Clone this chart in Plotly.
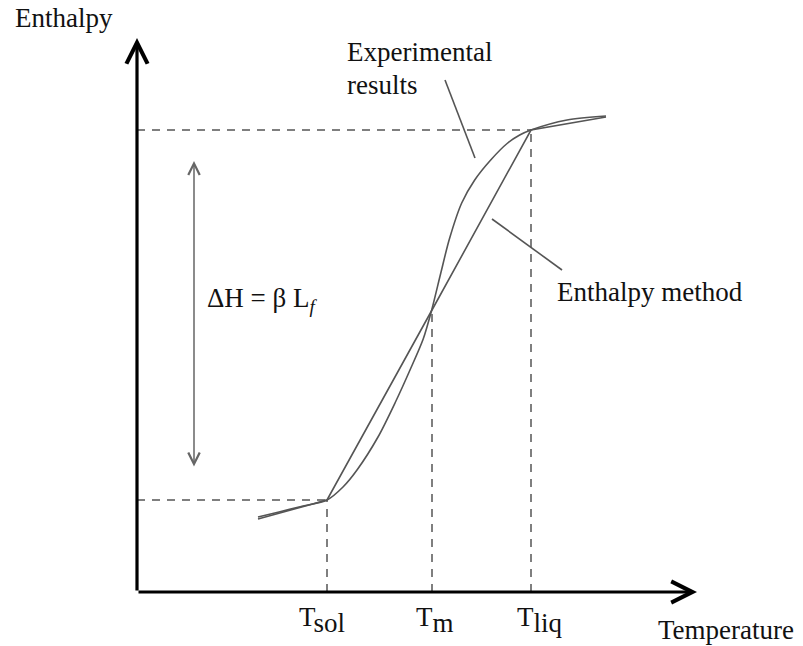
import plotly.graph_objects as go

# Characteristic temperatures (axis units, origin at the axis corner)
T_SOL, T_M, T_LIQ = 1.90, 2.95, 3.94
# Enthalpy at those temperatures
H_SOL, H_M, H_LIQ = 0.92, 2.82, 4.62

# Measured enthalpy curve (smooth S-shape through the mushy zone)
exp_T = [1.21, 1.42, 1.62, 1.90, 2.06, 2.20, 2.41, 2.58, 2.73, 2.862, 2.947,
         3.038, 3.124, 3.247, 3.377, 3.537, 3.707, 3.827, 3.94, 4.30, 4.69]
exp_H = [0.75, 0.80, 0.85, 0.92, 1.05, 1.22, 1.55, 1.89, 2.22, 2.53, 2.82,
         3.19, 3.53, 3.89, 4.12, 4.32, 4.49, 4.57, 4.62, 4.72, 4.76]

# Enthalpy method: piecewise linear between solidus and liquidus
met_T = [1.21, T_SOL, T_M, T_LIQ, 4.69]
met_H = [0.73, H_SOL, H_M, H_LIQ, 4.75]

# Axis arrow ends and the latent-heat span arrow
X_END, Y_END = 5.60, 5.54
DH_X, DH_LO, DH_HI = 0.57, 1.24, 4.31

FONT = "Liberation Serif"
INK = "#111111"
GREY = "#555555"

fig = go.Figure()

fig.add_trace(go.Scatter(x=exp_T, y=exp_H, mode="lines",
                         line=dict(color=GREY, width=1.6, shape="spline", smoothing=0.8),
                         hoverinfo="skip", showlegend=False))
fig.add_trace(go.Scatter(x=met_T, y=met_H, mode="lines", line=dict(color=GREY, width=1.6),
                         hoverinfo="skip", showlegend=False))

# Dashed guide lines to the axes
dash = dict(color=GREY, width=1.5, dash="8px,7px")
for (x0, y0, x1, y1) in [
    (0, H_SOL, T_SOL, H_SOL), (T_SOL, 0, T_SOL, H_SOL),
    (0, H_LIQ, T_LIQ, H_LIQ), (T_LIQ, 0, T_LIQ, H_LIQ),
    (T_M, 0, T_M, H_M),
]:
    fig.add_shape(type="line", x0=x0, y0=y0, x1=x1, y1=y1, xref="x", yref="y", line=dash, layer="below")

# Leader lines from the labels to the curves
lead = dict(color=GREY, width=1.6)
fig.add_shape(type="line", x0=3.08, y0=5.12, x1=3.38, y1=4.34, xref="x", yref="y", line=lead)
fig.add_shape(type="line", x0=3.55, y0=3.73, x1=4.25, y1=3.22, xref="x", yref="y", line=lead)

annotations = []
# Axes drawn as arrows
for (hx, hy) in [(0, Y_END), (X_END, 0)]:
    annotations.append(dict(x=hx, y=hy, ax=0, ay=0, xref="x", yref="y", axref="x", ayref="y", text="",
                            showarrow=True, arrowhead=5, arrowsize=1.3, arrowwidth=3.2, arrowcolor="#000000",
                            standoff=0))
# Double arrow spanning the latent heat
annotations.append(dict(x=DH_X, y=DH_HI, ax=DH_X, ay=DH_LO, xref="x", yref="y", axref="x", ayref="y", text="",
                        showarrow=True, arrowhead=5, startarrowhead=5, arrowside="end+start",
                        arrowsize=1.5, startarrowsize=1.5, arrowwidth=1.5, arrowcolor="#666666",
                        standoff=0, startstandoff=0))

def label(x, y, text, anchor="left"):
    annotations.append(dict(x=x, y=y, xref="x", yref="y", text=text, showarrow=False,
                            xanchor=anchor, yanchor="middle", font=dict(family=FONT, size=27, color=INK)))

def sub_full(s):
    # lowered subscript kept at the body size
    return "<sub><span style='font-size:27px'>" + s + "</span></sub>"

label(-1.24, 5.74, "Enthalpy")
label(5.19, -0.38, "Temperature")
label(2.08, 5.40, "Experimental")
label(2.08, 5.07, "results")
label(4.18, 3.00, "Enthalpy method")
label(0.68, 2.92, "ΔH = β L<sub><i>f</i></sub>")
label(T_SOL - 0.30, -0.28, "T" + sub_full("sol"))
label(T_M - 0.18, -0.28, "T" + sub_full("m"))
label(T_LIQ - 0.16, -0.28, "T" + sub_full("liq"))

fig.update_layout(
    width=803, height=646,
    margin=dict(l=0, r=0, t=0, b=0),
    paper_bgcolor="white", plot_bgcolor="white",
    xaxis=dict(range=[-1.37, 6.66], visible=False, fixedrange=True),
    yaxis=dict(range=[-0.54, 5.92], visible=False, fixedrange=True),
    annotations=annotations,
    showlegend=False,
)

fig.write_html("out.html")
